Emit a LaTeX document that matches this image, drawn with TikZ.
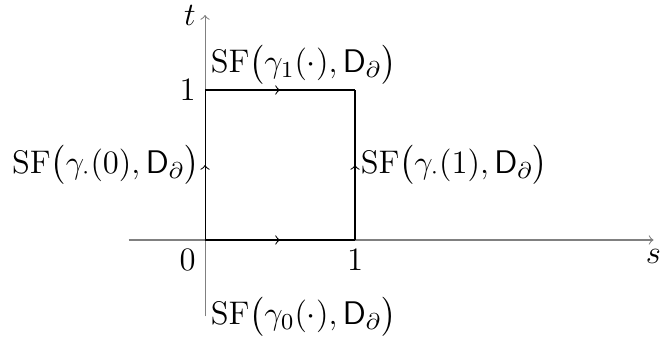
\documentclass[tikz,border=0pt]{standalone}
\usepackage{fix-cm}
\usepackage{amsmath}
\usepackage{amssymb}
\usetikzlibrary{positioning,decorations.markings}

\begin{document}
\begin{tikzpicture}[x=2cm,y=2cm,font=\fontsize{12.4}{15}\selectfont,
     axis/.style={gray,->},
     edge/.style={postaction={decorate},decoration={markings,mark=at position .5 with {\arrow{>}}}},
     lbl/.style={inner sep=2pt}]
    \useasboundingbox (-1.367,-0.687) rectangle (3.06,1.6);
    \coordinate (O) at (0,0);   \coordinate (A) at (1,0);
    \coordinate (B) at (1,1);   \coordinate (C) at (0,1);
    \coordinate (xl) at (-0.51,0); \coordinate (xr) at (2.99,0);
    \coordinate (yb) at (0,-0.51); \coordinate (yt) at (0,1.5);
    \draw[axis](xl)--(xr) node[below,black]{$s$};
    \draw[axis](yb)--(yt) node[left,black]{$t$};
    \foreach \i/\j in {O/A,C/B,O/C,A/B}{\draw[edge](\i)--(\j);}
    \node[below left](n0) at (O){$0$};
    \node[below](n1) at (A){$1$};
    \node[left](m1) at (C){$1$};
    \node[lbl,above right](top) at (C){$\mathrm{SF}\bigl(\gamma_1(\cdot),\mathsf{D}_\partial\bigr)$};
    \node[lbl,left](lft) at (0,0.5){$\mathrm{SF}\bigl(\gamma_{\cdot}(0),\mathsf{D}_\partial\bigr)$};
    \node[lbl,right](rgt) at (1,0.5){$\mathrm{SF}\bigl(\gamma_{\cdot}(1),\mathsf{D}_\partial\bigr)$};
    \node[lbl,right](bot) at (yb){$\mathrm{SF}\bigl(\gamma_0(\cdot),\mathsf{D}_\partial\bigr)$};
  \end{tikzpicture}
\end{document}
